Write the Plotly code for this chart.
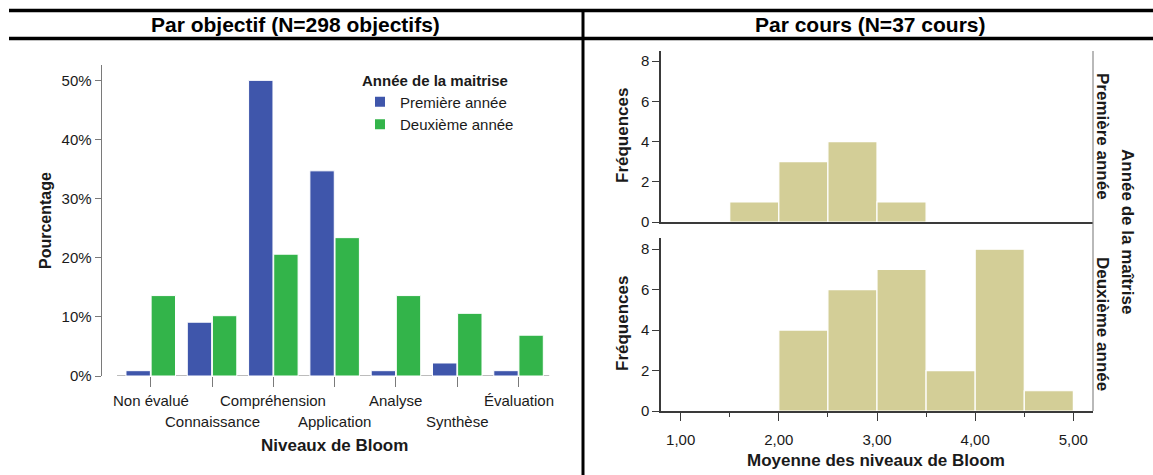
import plotly.graph_objects as go

# ---------------- data ----------------
levels = ["Non évalué", "Connaissance", "Compréhension", "Application",
          "Analyse", "Synthèse", "Évaluation"]
pct_year1 = [0.9, 9.1, 50.0, 34.7, 0.9, 2.2, 0.9]
pct_year2 = [13.6, 10.2, 20.6, 23.4, 13.6, 10.6, 6.9]
series_names = ["Première année", "Deuxième année"]
legend_title = "Année de la maitrise"

bin_width = 0.5
bins_year1 = [1.5, 2.0, 2.5, 3.0]
counts_year1 = [1, 3, 4, 1]
bins_year2 = [2.0, 2.5, 3.0, 3.5, 4.0, 4.5]
counts_year2 = [4, 6, 7, 2, 8, 1]
hist_ticks = [1, 2, 3, 4, 5]
pct_ticks = [0, 10, 20, 30, 40, 50]
pct_tick_labels = ["0%", "10%", "20%", "30%", "40%", "50%"]
freq_ticks = [0, 2, 4, 6, 8]

header_left = "Par objectif (N=298 objectifs)"
header_right = "Par cours (N=37 cours)"

# ---------------- style ----------------
W, H = 1153, 475
FONT = "Liberation Sans, Arial, sans-serif"
BLUE = "#3F56AB"
GREEN = "#33B44A"
TAN = "#D3CE97"
GRAY = "#7A7A7A"
DARK = "#3A3A3A"
TXT = "#1A1A1A"


def px(x):
    return x / W


def py(y):
    return 1 - y / H


fig = go.Figure()

# ---- left grouped bar chart ----
for name, vals, col in zip(series_names, [pct_year1, pct_year2], [BLUE, GREEN]):
    fig.add_trace(go.Bar(
        x=levels, y=vals, name=name, marker_color=col,
        marker_line=dict(color="white", width=1),
        xaxis="x", yaxis="y", showlegend=True, hoverinfo="x+y+name",
    ))

# ---- right histograms ----
fig.add_trace(go.Bar(
    x=[b + bin_width / 2 for b in bins_year1], y=counts_year1, width=bin_width,
    marker_color=TAN, marker_line=dict(color="white", width=1.2),
    xaxis="x2", yaxis="y2", showlegend=False, name=series_names[0],
))
fig.add_trace(go.Bar(
    x=[b + bin_width / 2 for b in bins_year2], y=counts_year2, width=bin_width,
    marker_color=TAN, marker_line=dict(color="white", width=1.2),
    xaxis="x3", yaxis="y3", showlegend=False, name=series_names[1],
))

tickfont = dict(family=FONT, size=15, color=TXT)

layout = dict(
    width=W, height=H, autosize=False,
    margin=dict(l=0, r=0, t=0, b=0, pad=0, autoexpand=False),
    paper_bgcolor="white", plot_bgcolor="white",
    font=dict(family=FONT, size=15, color=TXT),
    separators=",.",
    barmode="group", bargap=0.18, bargroupgap=0.03,
    xaxis=dict(
        domain=[px(101.7), px(549.2)], anchor="y", automargin=False,
        type="category", range=[-0.8, 6.5],
        showline=False, showgrid=False, zeroline=False,
        ticks="outside", ticklen=10, tickcolor=GRAY, tickwidth=1,
        showticklabels=False,
    ),
    yaxis=dict(
        domain=[py(376), py(65)], anchor="x", automargin=False,
        range=[0, 52.6], tickmode="array", tickvals=pct_ticks, ticktext=pct_tick_labels,
        showline=True, linecolor=GRAY, linewidth=1.2,
        ticks="outside", ticklen=6, tickcolor=GRAY,
        showgrid=False, zeroline=False, tickfont=tickfont,
    ),
    xaxis2=dict(
        domain=[px(661), px(1093)], anchor="y2", range=[0.8, 5.2], automargin=False,
        showline=True, linecolor=DARK, linewidth=1.5,
        ticks="", showticklabels=False, showgrid=False, zeroline=False,
    ),
    yaxis2=dict(
        domain=[py(222), py(51)], anchor="x2", range=[0, 8.5], automargin=False,
        tickvals=freq_ticks, showline=True, linecolor=DARK, linewidth=1.5,
        ticks="outside", ticklen=7, tickcolor=DARK,
        showgrid=False, zeroline=False, tickfont=tickfont,
    ),
    xaxis3=dict(
        domain=[px(661), px(1093)], anchor="y3", range=[0.8, 5.2], automargin=False,
        tickvals=hist_ticks, tickformat=".2f",
        showline=True, linecolor=DARK, linewidth=1.5,
        ticks="outside", ticklen=8, tickcolor=DARK, ticklabelstandoff=6,
        minor=dict(dtick=0.5, tick0=0.5, ticks="outside", ticklen=4, tickcolor=DARK),
        showgrid=False, zeroline=False, tickfont=tickfont,
    ),
    yaxis3=dict(
        domain=[py(411), py(238)], anchor="x3", range=[0, 8.55], automargin=False,
        tickvals=freq_ticks, showline=True, linecolor=DARK, linewidth=1.5,
        ticks="outside", ticklen=7, tickcolor=DARK,
        showgrid=False, zeroline=False, tickfont=tickfont,
    ),
    legend=dict(
        x=px(360), y=py(66), xanchor="left", yanchor="top",
        bgcolor="rgba(0,0,0,0)",
        title=dict(text="<b>" + legend_title + "</b>", font=dict(size=15, family=FONT)),
        font=dict(size=15, family=FONT, color=TXT),
        tracegroupgap=0, itemsizing="constant",
    ),
)
fig.update_layout(**layout)

shapes = []
# frame lines
shapes.append(dict(type="line", xref="paper", yref="paper", x0=px(9), x1=1,
                   y0=py(10.5), y1=py(10.5), line=dict(color="black", width=3.5)))
shapes.append(dict(type="line", xref="paper", yref="paper", x0=px(9), x1=1,
                   y0=py(38.5), y1=py(38.5), line=dict(color="black", width=3.5)))
shapes.append(dict(type="line", xref="paper", yref="paper", x0=px(583), x1=px(583),
                   y0=py(9), y1=0, line=dict(color="black", width=3)))
# left chart baseline
shapes.append(dict(type="line", xref="x", yref="y", x0=-0.55, x1=6.55, y0=0, y1=0,
                   line=dict(color=GRAY, width=1.2), layer="below"))
# long ticks for staggered labels
for i in range(1, len(levels), 2):
    shapes.append(dict(type="line", xref="x", yref="y", x0=levels[i], x1=levels[i],
                       ysizemode="pixel", yanchor=0, y0=0, y1=-31,
                       line=dict(color=GRAY, width=1)))
# right facet border
shapes.append(dict(type="line", xref="paper", yref="paper", x0=px(1093), x1=px(1093),
                   y0=py(411), y1=py(51), line=dict(color="#8A8A8A", width=1.2)))
fig.update_layout(shapes=shapes)

ann = []
ann.append(dict(text="<b>" + header_left + "</b>", x=px(295), y=py(24.5), xref="paper",
                yref="paper", showarrow=False, font=dict(size=21, family=FONT, color="black"),
                xanchor="center", yanchor="middle"))
ann.append(dict(text="<b>" + header_right + "</b>", x=px(870), y=py(24.5), xref="paper",
                yref="paper", showarrow=False, font=dict(size=21, family=FONT, color="black"),
                xanchor="center", yanchor="middle"))
# category labels (staggered)
for i, lab in enumerate(levels):
    ann.append(dict(text=lab, x=lab, xref="x", y=py(400.7 if i % 2 == 0 else 421.7),
                    yref="paper", showarrow=False, font=dict(size=15, family=FONT, color=TXT),
                    xanchor="center", yanchor="middle"))
ann.append(dict(text="<b>Niveaux de Bloom</b>", x=px(334), y=py(445), xref="paper", yref="paper",
                showarrow=False, font=dict(size=17, family=FONT, color=TXT),
                xanchor="center", yanchor="middle"))
ann.append(dict(text="<b>Pourcentage</b>", x=px(45), y=py(221), xref="paper", yref="paper",
                textangle=-90, showarrow=False, font=dict(size=16, family=FONT, color=TXT),
                xanchor="center", yanchor="middle"))
for yc in (136, 324):
    ann.append(dict(text="<b>Fréquences</b>", x=px(622), y=py(yc), xref="paper", yref="paper",
                    textangle=-90, showarrow=False, font=dict(size=17, family=FONT, color=TXT),
                    xanchor="center", yanchor="middle"))
ann.append(dict(text="<b>Moyenne des niveaux de Bloom</b>", x=px(876), y=py(460), xref="paper",
                yref="paper", showarrow=False, font=dict(size=17, family=FONT, color=TXT),
                xanchor="center", yanchor="middle"))
ann.append(dict(text="<b>" + series_names[0] + "</b>", x=px(1103), y=py(136), xref="paper",
                yref="paper", textangle=90, showarrow=False,
                font=dict(size=17, family=FONT, color=TXT), xanchor="center", yanchor="middle"))
ann.append(dict(text="<b>" + series_names[1] + "</b>", x=px(1103), y=py(324), xref="paper",
                yref="paper", textangle=90, showarrow=False,
                font=dict(size=17, family=FONT, color=TXT), xanchor="center", yanchor="middle"))
ann.append(dict(text="<b>Année de la maîtrise</b>", x=px(1128), y=py(231), xref="paper",
                yref="paper", textangle=90, showarrow=False,
                font=dict(size=17, family=FONT, color=TXT), xanchor="center", yanchor="middle"))
fig.update_layout(annotations=ann)

fig.write_html("out.html", config={"displayModeBar": False},
               post_script="document.body.style.margin='0';document.body.style.overflow='hidden';")
